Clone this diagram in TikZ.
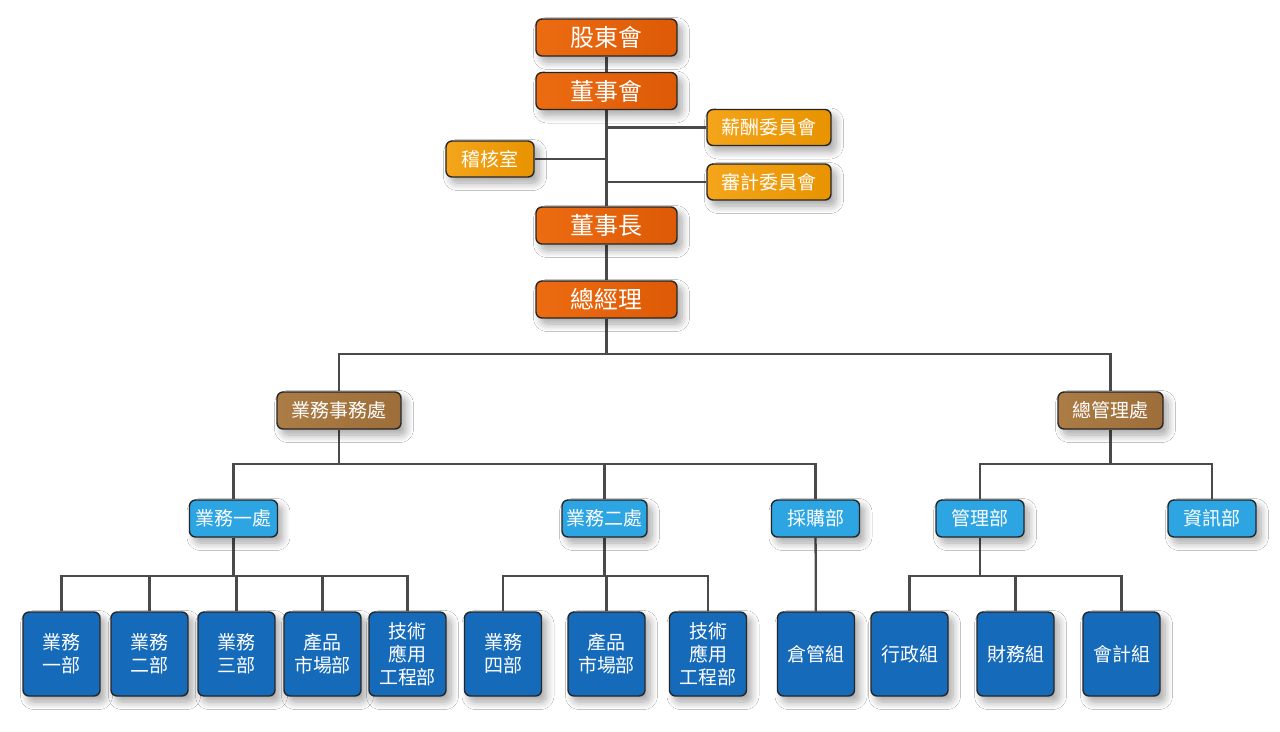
\documentclass[tikz,border=0pt]{standalone}
\usepackage{fontspec}
\setmainfont{Noto Sans CJK TC}
\usetikzlibrary{positioning, backgrounds, shadows.blur}

\definecolor{toporange}{HTML}{EC6C12}
\definecolor{toporangedk}{HTML}{DE5A06}
\definecolor{amber}{HTML}{F4A51A}
\definecolor{amberdk}{HTML}{E89300}
\definecolor{bronze}{HTML}{AC7C46}
\definecolor{bronzedk}{HTML}{9E6E3A}
\definecolor{skyblue}{HTML}{2CA5E2}
\definecolor{deepblue}{HTML}{156AB9}
\definecolor{linkgray}{HTML}{4A4A4A}

\begin{document}
\begin{tikzpicture}[
    x=0.02cm, y=-0.02cm,
    box/.style={
        draw=black!85,
        line width=0.8pt,
        rounded corners=0.12cm,
        text=white,
        inner sep=0pt,
        blur shadow={shadow xshift=0.1cm, shadow yshift=-0.12cm,
                     shadow blur radius=0.15cm, shadow blur steps=10,
                     shadow opacity=35}
    },
    toplevel/.style={
        box,
        minimum width=2.82cm,
        minimum height=0.74cm,
        left color=toporange,
        right color=toporangedk,
        font=\fontsize{13.6}{16}\selectfont
    },
    committee/.style={
        box,
        minimum height=0.72cm,
        left color=amber,
        right color=amberdk,
        font=\fontsize{10.8}{13}\selectfont
    },
    division/.style={
        box,
        minimum height=0.74cm,
        left color=bronze,
        right color=bronzedk,
        font=\fontsize{10.8}{13}\selectfont
    },
    dept/.style={
        box,
        minimum width=1.76cm,
        minimum height=0.74cm,
        fill=skyblue,
        font=\fontsize{10.8}{13}\selectfont
    },
    unit/.style={
        box,
        minimum width=1.54cm,
        minimum height=1.68cm,
        fill=deepblue,
        align=center,
        font=\fontsize{10.8}{13}\selectfont
    },
    link/.style={
        draw=linkgray,
        line width=1.3pt
    }
]

    \useasboundingbox (0,0) rectangle (1280,731);

    % Board
    \node[toplevel] (gudong) at (606.5,37.5) {股東會};
    \node[toplevel] (dongshihui) at (606.5,91) {董事會};
    \node[toplevel] (dongshizhang) at (606.5,225.5) {董事長};
    \node[toplevel] (zongjingli) at (606.5,299.5) {總經理};

    % Committees
    \node[committee, minimum width=2.48cm] (xinchou) at (769,127.5) {薪酬委員會};
    \node[committee, minimum width=2.48cm] (shenji) at (769,182) {審計委員會};
    \node[committee, minimum width=1.76cm] (jihe) at (490,159) {稽核室};

    % Divisions
    \node[division, minimum width=2.48cm] (yewuchu) at (339,410.5) {業務事務處};
    \node[division, minimum width=2.1cm] (zongguanli) at (1110.5,410.5) {總管理處};

    % Departments
    \node[dept] (yewu1) at (233.5,518.5) {業務一處};
    \node[dept, minimum width=1.7cm] (yewu2) at (604.5,518.5) {業務二處};
    \node[dept] (caigou) at (815.5,518.5) {採購部};
    \node[dept] (guanli) at (980,518.5) {管理部};
    \node[dept] (zixun) at (1212,518.5) {資訊部};

    % Units
    \node[unit] (bu1) at (61.5,654) {業務\\一部};
    \node[unit] (bu2) at (149.5,654) {業務\\二部};
    \node[unit] (bu3) at (236.5,654) {業務\\三部};
    \node[unit] (chanpin1) at (322.5,654) {產品\\市場部};
    \node[unit] (jishu1) at (407.5,654) {技術\\應用\\工程部};
    \node[unit] (bu4) at (503,654) {業務\\四部};
    \node[unit] (chanpin2) at (606.5,654) {產品\\市場部};
    \node[unit] (jishu2) at (708,654) {技術\\應用\\工程部};
    \node[unit] (cangguan) at (816,654) {倉管組};
    \node[unit] (xingzheng) at (909.5,654) {行政組};
    \node[unit] (caiwu) at (1015.5,654) {財務組};
    \node[unit] (kuaiji) at (1121.5,654) {會計組};

    \begin{scope}[on background layer]
        \fill[white] (0,0) rectangle (1280,731);

        % Board line
        \draw[link] (gudong) -- (dongshihui);
        \draw[link] (dongshihui) -- (dongshizhang);
        \draw[link] (dongshizhang) -- (zongjingli);
        \draw[link] (xinchou.west) -- (xinchou.west -| dongshihui.south);
        \draw[link] (shenji.west) -- (shenji.west -| dongshihui.south);
        \draw[link] (jihe.east) -- (jihe.east -| dongshihui.south);

        % Divisions
        \coordinate (bus1) at (606.5,354);
        \draw[link] (zongjingli) -- (bus1);
        \draw[link] (yewuchu.north) |- (bus1) -| (zongguanli.north);

        % Departments
        \coordinate (bus2) at (339,464);
        \draw[link] (yewuchu) -- (bus2);
        \draw[link] (yewu1.north) |- (bus2) -| (caigou.north);
        \draw[link] (yewu2.north) -- (yewu2.north |- bus2);

        \coordinate (bus3) at (1110.5,464);
        \draw[link] (zongguanli) -- (bus3);
        \draw[link] (guanli.north) |- (bus3) -| (zixun.north);

        % Units
        \coordinate (bus4) at (233.5,576);
        \draw[link] (yewu1) -- (bus4);
        \draw[link] (bu1.north) |- (bus4) -| (jishu1.north);
        \draw[link] (bu2.north) -- (bu2.north |- bus4);
        \draw[link] (bu3.north) -- (bu3.north |- bus4);
        \draw[link] (chanpin1.north) -- (chanpin1.north |- bus4);

        \coordinate (bus5) at (604.5,576);
        \draw[link] (yewu2) -- (bus5);
        \draw[link] (bu4.north) |- (bus5) -| (jishu2.north);
        \draw[link] (chanpin2.north) -- (chanpin2.north |- bus5);

        \draw[link] (caigou) -- (cangguan);

        \coordinate (bus6) at (980,576);
        \draw[link] (guanli) -- (bus6);
        \draw[link] (xingzheng.north) |- (bus6) -| (kuaiji.north);
        \draw[link] (caiwu.north) -- (caiwu.north |- bus6);
    \end{scope}

\end{tikzpicture}
\end{document}
